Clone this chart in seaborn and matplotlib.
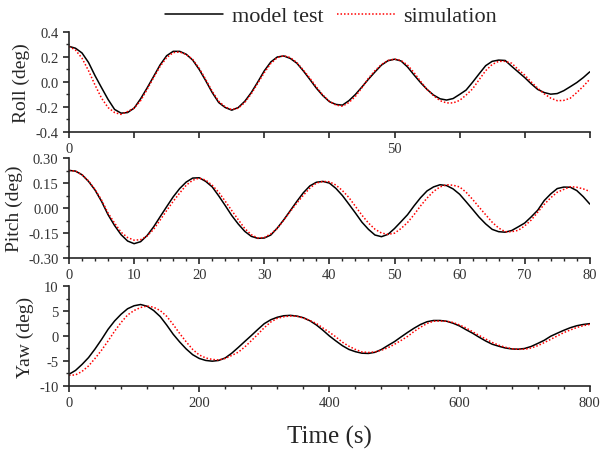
import numpy as np
import pandas as pd
import matplotlib
matplotlib.use("Agg")
import matplotlib.pyplot as plt
from matplotlib.ticker import MultipleLocator, FixedLocator, FixedFormatter, FormatStrFormatter
import seaborn as sns

# time bases
t_short = list(range(0, 81))
t_yaw = list(range(0, 810, 10))

# roll (deg)
roll_test = [0.285, 0.27, 0.232, 0.156, 0.05, -0.046, -0.14, -0.22, -0.25, -0.245,
             -0.21, -0.135, -0.048, 0.044, 0.137, 0.21, 0.245, 0.245, 0.222, 0.175,
             0.1, 0.01, -0.085, -0.165, -0.205, -0.226, -0.205, -0.155, -0.085, 0.0,
             0.089, 0.16, 0.2, 0.208, 0.188, 0.15, 0.088, 0.02, -0.05, -0.11,
             -0.158, -0.18, -0.186, -0.15, -0.1, -0.04, 0.022, 0.08, 0.135, 0.17,
             0.182, 0.168, 0.12, 0.056, -0.005, -0.06, -0.105, -0.135, -0.145, -0.133,
             -0.1, -0.065, -0.002, 0.065, 0.13, 0.165, 0.175, 0.172, 0.125, 0.08,
             0.035, -0.015, -0.06, -0.085, -0.098, -0.093, -0.07, -0.038, -0.005, 0.035,
             0.081]
roll_sim = [0.285, 0.255, 0.19, 0.09, -0.025, -0.13, -0.205, -0.245, -0.26, -0.237,
            -0.21, -0.15, -0.06, 0.035, 0.125, 0.195, 0.235, 0.24, 0.22, 0.18,
            0.11, 0.02, -0.075, -0.155, -0.2, -0.222, -0.21, -0.165, -0.095, -0.01,
            0.075, 0.148, 0.195, 0.21, 0.195, 0.155, 0.095, 0.03, -0.04, -0.105,
            -0.155, -0.185, -0.194, -0.165, -0.115, -0.046, 0.03, 0.09, 0.14, 0.172,
            0.183, 0.172, 0.135, 0.075, 0.005, -0.06, -0.11, -0.15, -0.168, -0.168,
            -0.148, -0.105, -0.055, 0.018, 0.09, 0.14, 0.165, 0.165, 0.15, 0.1,
            0.055, 0.0, -0.05, -0.095, -0.13, -0.15, -0.148, -0.13, -0.085, -0.035,
            0.022]

# pitch (deg)
pitch_test = [0.226, 0.222, 0.2, 0.16, 0.108, 0.04, -0.04, -0.105, -0.16, -0.198,
              -0.214, -0.202, -0.165, -0.113, -0.052, 0.008, 0.067, 0.117, 0.156, 0.18,
              0.182, 0.16, 0.127, 0.073, 0.015, -0.045, -0.096, -0.14, -0.17, -0.182,
              -0.18, -0.162, -0.12, -0.07, -0.015, 0.04, 0.092, 0.133, 0.155, 0.16,
              0.15, 0.118, 0.075, 0.023, -0.03, -0.085, -0.128, -0.162, -0.172, -0.158,
              -0.123, -0.082, -0.04, 0.013, 0.062, 0.103, 0.127, 0.14, 0.135, 0.115,
              0.083, 0.038, -0.008, -0.055, -0.095, -0.128, -0.142, -0.145, -0.135, -0.113,
              -0.09, -0.053, -0.013, 0.045, 0.085, 0.117, 0.126, 0.125, 0.105, 0.068,
              0.024]
pitch_sim = [0.226, 0.222, 0.2, 0.163, 0.112, 0.048, -0.03, -0.09, -0.145, -0.177,
             -0.193, -0.19, -0.168, -0.128, -0.072, -0.015, 0.04, 0.09, 0.137, 0.167,
             0.18, 0.168, 0.137, 0.095, 0.041, -0.015, -0.07, -0.123, -0.16, -0.18,
             -0.177, -0.155, -0.123, -0.072, -0.02, 0.03, 0.077, 0.12, 0.15, 0.16,
             0.158, 0.138, 0.105, 0.063, 0.01, -0.043, -0.09, -0.127, -0.15, -0.158,
             -0.151, -0.123, -0.087, -0.04, 0.013, 0.06, 0.1, 0.127, 0.14, 0.137,
             0.127, 0.095, 0.052, 0.005, -0.04, -0.085, -0.12, -0.142, -0.142, -0.134,
             -0.107, -0.072, -0.025, 0.022, 0.062, 0.095, 0.112, 0.128, 0.125, 0.115,
             0.1]

# yaw (deg)
yaw_test = [-7.67, -6.9, -5.7, -4.33, -2.6, -0.7, 1.33, 3.0, 4.35, 5.45,
            6.05, 6.3, 5.95, 5.1, 3.9, 2.2, 0.35, -1.2, -2.6, -3.75,
            -4.5, -4.9, -5.05, -4.9, -4.4, -3.45, -2.3, -1.1, 0.08, 1.3,
            2.47, 3.25, 3.75, 4.05, 4.13, 3.98, 3.65, 3.05, 2.2, 1.15,
            0.0, -1.0, -1.95, -2.7, -3.15, -3.45, -3.5, -3.27, -2.7, -1.9,
            -1.13, -0.2, 0.7, 1.55, 2.3, 2.85, 3.1, 3.1, 2.95, 2.55,
            2.0, 1.25, 0.55, -0.25, -1.0, -1.65, -2.05, -2.4, -2.6, -2.65,
            -2.5, -2.1, -1.5, -0.87, -0.05, 0.55, 1.13, 1.65, 2.05, 2.3,
            2.47]
yaw_sim = [-7.87, -7.8, -7.1, -6.0, -4.5, -2.85, -1.0, 0.95, 2.7, 4.2,
           5.1, 5.7, 6.0, 5.75, 5.1, 3.95, 2.3, 0.5, -1.17, -2.7,
           -3.8, -4.4, -4.7, -4.8, -4.5, -3.9, -3.25, -2.2, -0.96, 0.33,
           1.67, 2.8, 3.53, 3.85, 4.0, 3.95, 3.6, 3.1, 2.5, 1.6,
           0.75, -0.2, -1.25, -2.05, -2.7, -3.2, -3.3, -3.2, -2.85, -2.35,
           -1.67, -0.9, -0.1, 0.9, 1.75, 2.5, 2.95, 3.0, 2.95, 2.7,
           2.2, 1.6, 0.85, 0.1, -0.6, -1.3, -1.85, -2.25, -2.55, -2.67,
           -2.65, -2.4, -1.95, -1.33, -0.67, 0.0, 0.67, 1.2, 1.7, 2.05,
           2.33]

sns.set_style("ticks")
plt.rcParams["font.family"] = ["Liberation Serif", "DejaVu Serif"]
plt.rcParams["axes.unicode_minus"] = False
plt.rcParams["axes.linewidth"] = 1.2

fig = plt.figure(figsize=(6, 4.52), dpi=100)
left, width, height = 0.115, 0.868, 0.221
ax1 = fig.add_axes([left, 0.706, width, height])
ax2 = fig.add_axes([left, 0.427, width, height])
ax3 = fig.add_axes([left, 0.144, width, height])

panels = [
    (ax1, t_short, roll_test, roll_sim, "Roll (deg)"),
    (ax2, t_short, pitch_test, pitch_sim, "Pitch (deg)"),
    (ax3, t_yaw, yaw_test, yaw_sim, "Yaw (deg)"),
]

for ax, t, test, sim, name in panels:
    df = pd.DataFrame({"t": t, "test": test, "sim": sim})
    sns.lineplot(data=df, x="t", y="test", ax=ax, color="black", lw=1.1,
                 label="model test", legend=False)
    sns.lineplot(data=df, x="t", y="sim", ax=ax, color="red", lw=1.1,
                 linestyle=(0, (1, 1.3)), label="simulation", legend=False)
    ax.set_xlabel("")
    ax.set_ylabel(name, fontsize=14)
    ax.set_xlim(t[0], t[-1])
    sns.despine(ax=ax)
    ax.tick_params(which="major", length=4, width=1.2, labelsize=10.5,
                   labelcolor="#333333", direction="out")
    ax.tick_params(which="minor", length=2.5, width=1.0, direction="out")

# roll axis
ax1.set_ylim(-0.4, 0.4)
ax1.yaxis.set_major_locator(MultipleLocator(0.2))
ax1.yaxis.set_minor_locator(MultipleLocator(0.1))
ax1.yaxis.set_major_formatter(FormatStrFormatter("%.1f"))
roll_xticks = list(range(0, 90, 10))
roll_xlabels = ["0", "", "", "", "", "50", "", "", ""]
ax1.xaxis.set_major_locator(FixedLocator(roll_xticks))
ax1.xaxis.set_major_formatter(FixedFormatter(roll_xlabels))

# pitch axis
ax2.set_ylim(-0.3, 0.3)
ax2.yaxis.set_major_locator(MultipleLocator(0.15))
ax2.yaxis.set_minor_locator(MultipleLocator(0.075))
ax2.yaxis.set_major_formatter(FormatStrFormatter("%.2f"))
ax2.xaxis.set_major_locator(MultipleLocator(10))
ax2.xaxis.set_minor_locator(MultipleLocator(2))

# yaw axis
ax3.set_ylim(-10, 10)
ax3.yaxis.set_major_locator(MultipleLocator(5))
ax3.yaxis.set_minor_locator(MultipleLocator(2.5))
ax3.xaxis.set_major_locator(MultipleLocator(200))
ax3.xaxis.set_minor_locator(MultipleLocator(40))

handles, labels = ax1.get_legend_handles_labels()
fig.legend(handles, labels, loc="center", bbox_to_anchor=(0.552, 0.962), ncol=2,
           frameon=False, fontsize=16, handlelength=2.6, columnspacing=0.6,
           handletextpad=0.4)

fig.text(0.549, 0.033, "Time (s)", ha="center", va="center", fontsize=18)

fig.savefig("out.png", dpi=100)
